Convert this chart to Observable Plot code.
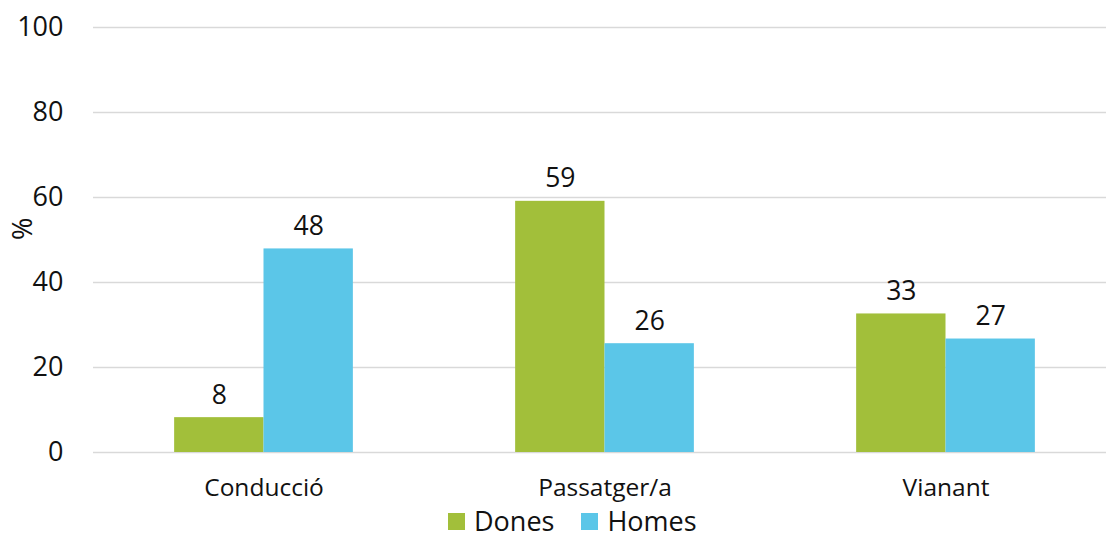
<!DOCTYPE html>
<html>
<head>
<meta charset="utf-8">
<script src="https://cdn.jsdelivr.net/npm/d3@7"></script>
<script src="https://cdn.jsdelivr.net/npm/@observablehq/plot@0.6"></script>
<style>
  body { margin: 0; background: #fff; font-family: "Open Sans", sans-serif; }
  #chart svg { display: block; overflow: visible; }
  #legend { display: flex; align-items: center; height: 22px; margin-top: 6px; margin-left: 448px; font-size: 27px; color: #111; }
  #legend .item { display: flex; align-items: center; margin-right: 27px; height: 22px; }
  #legend .sw { width: 17px; height: 17px; margin-right: 9px; }
  #legend .lab { display: inline-block; line-height: 22px; height: 22px; }
</style>
</head>
<body>
<div id="chart"></div>
<script>
const categories = ["Conducció", "Passatger/a", "Vianant"];
const series = ["Dones", "Homes"];
const colors = ["#a2bf3a", "#5bc6e8"];
const dones = [8.2, 59.1, 32.6];
const homes = [47.9, 25.6, 26.7];
const yTicks = [0, 20, 40, 60, 80, 100];

const data = [];
categories.forEach((c, i) => {
  data.push({cat: c, serie: "Dones", value: dones[i]});
  data.push({cat: c, serie: "Homes", value: homes[i]});
});

const plot = Plot.plot({
  width: 1106,
  height: 504,
  marginTop: 27,
  marginBottom: 52,
  marginLeft: 92,
  marginRight: 0,
  style: {fontFamily: "'Open Sans', sans-serif", color: "#111", background: "#fff"},
  fx: {domain: categories, range: [92, 1117], padding: 0, label: null},
  x: {domain: series, paddingInner: 0, paddingOuter: 0.908, axis: null, round: false},
  y: {domain: [0, 100], ticks: yTicks, label: null},
  color: {domain: series, range: colors},
  marks: [
    Plot.gridY(yTicks, {stroke: "#d9d9d9", strokeOpacity: 1, strokeWidth: 1.3}),
    Plot.barY(data, {fx: "cat", x: "serie", y: "value", fill: "serie"}),
    Plot.text(data, {fx: "cat", x: "serie", y: "value", text: d => String(Math.round(d.value)), dy: -14, lineAnchor: "bottom", fontSize: 26.5, fill: "#111"}),
    Plot.axisY(yTicks, {tickSize: 0, tickPadding: 30, fontSize: 27, label: null}),
    Plot.axisFx({anchor: "bottom", tickSize: 0, tickPadding: 26, fontSize: 24.5, label: null}),
    Plot.text(["%"], {frameAnchor: "left", dx: -70, rotate: -90, fontSize: 27, fill: "#111", facet: "super"})
  ]
});
document.getElementById("chart").appendChild(plot);

const legend = document.createElement("div");
legend.id = "legend";
series.forEach((s, i) => {
  const it = document.createElement("div");
  it.className = "item";
  const sw = document.createElement("div");
  sw.className = "sw";
  sw.style.background = colors[i];
  const t = document.createElement("span");
  t.className = "lab";
  t.textContent = s;
  it.appendChild(sw); it.appendChild(t);
  legend.appendChild(it);
});
document.body.appendChild(legend);
</script>
</body>
</html>
